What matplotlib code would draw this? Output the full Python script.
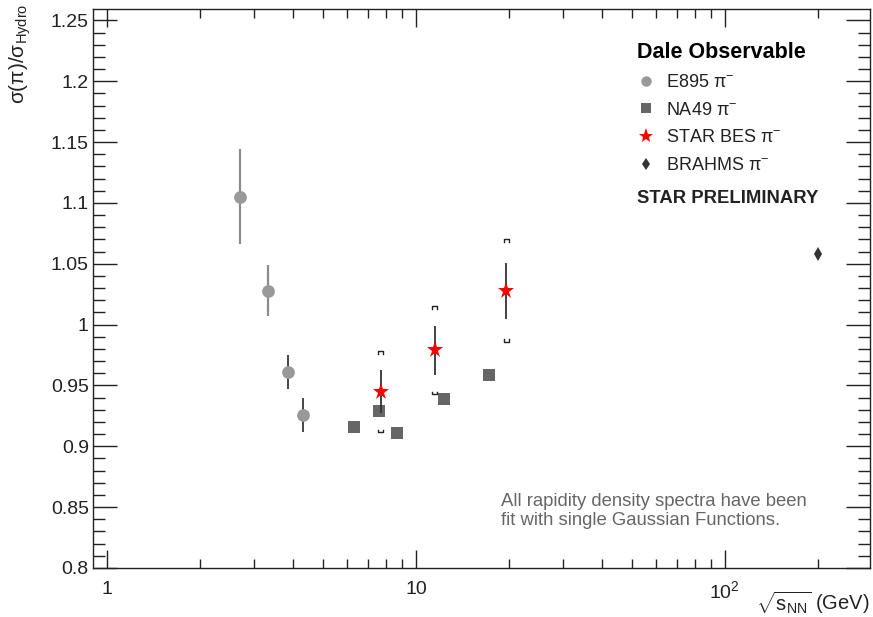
import matplotlib
matplotlib.use("Agg")
import matplotlib.pyplot as plt
from matplotlib.lines import Line2D
from matplotlib.ticker import FixedLocator, FixedFormatter, NullFormatter, MultipleLocator
import numpy as np

plt.rcParams['font.family'] = ['Liberation Sans', 'DejaVu Sans']
plt.rcParams['mathtext.fontset'] = 'custom'
plt.rcParams['mathtext.rm'] = 'Liberation Sans'
plt.rcParams['mathtext.it'] = 'Liberation Sans:italic'
plt.rcParams['mathtext.sf'] = 'Liberation Sans'

# E895 pi-
e895_x   = [2.7, 3.32, 3.84, 4.3]
e895_y   = [1.105, 1.028, 0.961, 0.926]
e895_err = [0.039, 0.021, 0.014, 0.014]

# NA49 pi-
na49_x = [6.3, 7.6, 8.7, 12.3, 17.3]
na49_y = [0.916, 0.929, 0.911, 0.939, 0.959]

# STAR BES pi-
star_x    = [7.7, 11.5, 19.6]
star_y    = [0.945, 0.979, 1.028]
star_stat = [0.018, 0.020, 0.023]
star_sys  = [0.033, 0.036, 0.042]

# BRAHMS pi-
brahms_x = [200.]
brahms_y = [1.058]

W, H = 873, 617
fig = plt.figure(figsize=(W/100., H/100.), dpi=100)
ax = fig.add_axes([93./W, 1-568./H, (870.-93.)/W, (568.-9.)/H])

ax.set_xscale('log')
ax.set_xlim(0.901, 295)
ax.set_ylim(0.8, 1.2594)

# E895
ax.errorbar(e895_x[:2], e895_y[:2], yerr=e895_err[:2], fmt='none', ecolor='#8c8c8c', elinewidth=1.6, capsize=0, zorder=2)
ax.errorbar(e895_x[2:], e895_y[2:], yerr=e895_err[2:], fmt='none', ecolor='#444444', elinewidth=1.4, capsize=0, zorder=2)
ax.plot(e895_x, e895_y, 'o', color='#999999', ms=9.2, mew=0, zorder=3)

# NA49
ax.plot(na49_x, na49_y, 's', color='#666666', ms=8.3, mew=0, zorder=3)

# STAR BES: stat errors + systematic brackets
ax.errorbar(star_x, star_y, yerr=star_stat, fmt='none', ecolor='#333333', elinewidth=1.3, capsize=0, zorder=3)
for x, y, s in zip(star_x, star_y, star_sys):
    hw = 10**(2.5/309.)
    tk = 0.0018
    ax.plot([x/hw, x/hw, x*hw, x*hw], [y+s-tk, y+s, y+s, y+s-tk], color='#222222', lw=1.0, zorder=3)
    ax.plot([x/hw, x/hw, x*hw, x*hw], [y-s+tk, y-s, y-s, y-s+tk], color='#222222', lw=1.0, zorder=3)
ax.plot(star_x, star_y, '*', color='#ff0000', ms=12.5, mew=0, zorder=4)

# BRAHMS
ax.plot(brahms_x, brahms_y, 'd', color='#333333', ms=7.2, mew=0, zorder=3)

# axes style (ROOT like)
for sp in ax.spines.values():
    sp.set_linewidth(1.0)
    sp.set_color('#222222')
ax.xaxis.set_major_locator(FixedLocator([1, 10, 100]))
ax.xaxis.set_major_formatter(FixedFormatter(['1', '10', r'$10^2$']))
ax.xaxis.set_minor_locator(FixedLocator([m*d for d in [1, 10, 100] for m in range(2, 10)]))
ax.xaxis.set_minor_formatter(NullFormatter())
ax.yaxis.set_major_locator(MultipleLocator(0.05))
ax.yaxis.set_minor_locator(MultipleLocator(0.01))
ax.yaxis.set_major_formatter(plt.FuncFormatter(lambda v, p: ('%.2f' % v).rstrip('0').rstrip('.')))

ax.tick_params(axis='both', which='both', direction='in', top=True, right=True, colors='#222222', width=1.0)
ax.tick_params(axis='y', which='major', length=17, pad=3, labelsize=14)
ax.tick_params(axis='y', which='minor', length=8.5)
ax.tick_params(axis='x', which='major', length=13, pad=9, labelsize=14)
ax.tick_params(axis='x', which='minor', length=6.5)

# labels
fig.text(20./W, 1-4./H, r'$\mathrm{\sigma(\pi)/\sigma_{Hydro}}$', rotation=90, ha='center', va='top', fontsize=15, color='#222222')
fig.text(869./W, 1-603./H, r'$\sqrt{\mathrm{s_{NN}}}$ (GeV)', ha='right', va='center', fontsize=14.5, color='#222222')

# legend
handles = [
    Line2D([], [], ls='none', marker='o', color='#999999', ms=7.5, mew=0),
    Line2D([], [], ls='none', marker='s', color='#666666', ms=7, mew=0),
    Line2D([], [], ls='none', marker='*', color='#ff0000', ms=11, mew=0),
    Line2D([], [], ls='none', marker='d', color='#333333', ms=6, mew=0),
]
labels = [u'E895 \u03c0$^{-}$', u'NA49 \u03c0$^{-}$', u'STAR BES \u03c0$^{-}$', u'BRAHMS \u03c0$^{-}$']
leg = ax.legend(handles, labels, loc='upper left', bbox_to_anchor=(637./W, 1-42./H),
                bbox_transform=fig.transFigure, frameon=False, fontsize=13,
                title='Dale Observable', title_fontproperties={'weight': 'bold', 'size': 15.5},
                alignment='left', handlelength=1.0, handletextpad=0.6, labelspacing=0.6,
                borderpad=0, borderaxespad=0)
for t in leg.get_texts():
    t.set_color('#222222')

fig.text(637./W, 1-198./H, 'STAR PRELIMINARY', fontsize=13.3, fontweight='bold', ha='left', va='center', color='#222222')

ax.text(501./W, 1-511./H, 'All rapidity density spectra have been\nfit with single Gaussian Functions.',
        transform=fig.transFigure, fontsize=13.3, color='#666666', ha='left', va='center', linespacing=1.2)

fig.savefig('out.png', dpi=100)
